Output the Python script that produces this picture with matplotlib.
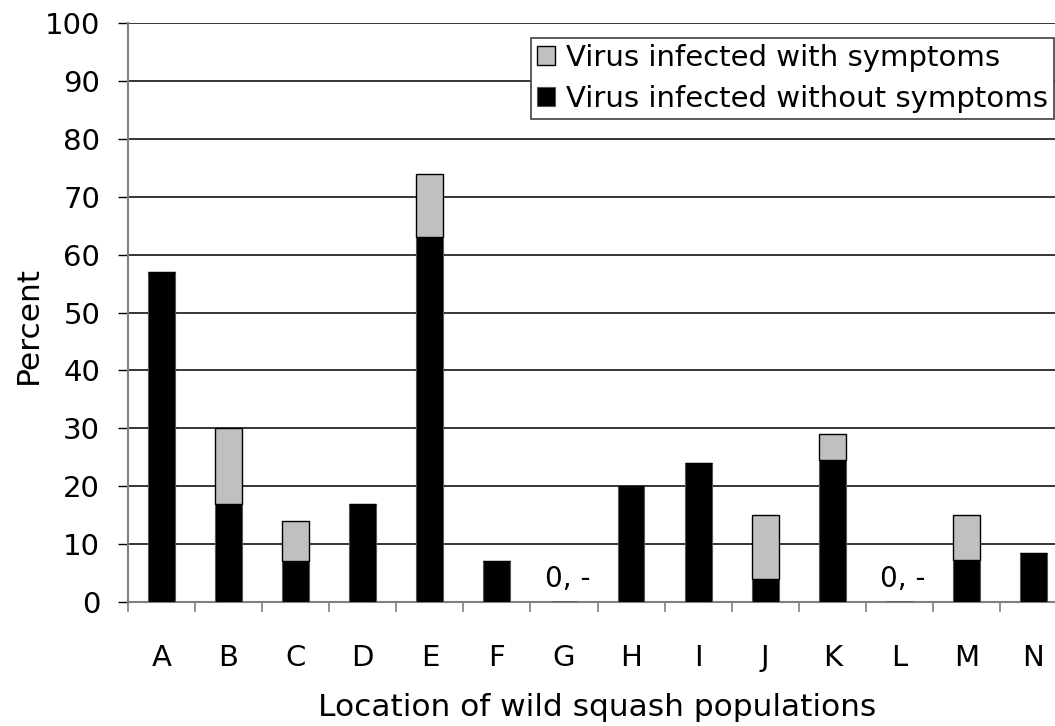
#!/usr/bin/env python3
"""Virus infection in wild squash populations, stacked bars."""

import matplotlib

matplotlib.use("Agg")

import matplotlib.pyplot as plt
import numpy as np

locations = ["A", "B", "C", "D", "E", "F", "G", "H", "I", "J", "K", "L", "M", "N"]
without_symptoms = [57, 17, 7, 17, 63, 7, 0, 20, 24, 4, 24.5, 0, 7.3, 8.4]
with_symptoms = [0, 13, 7, 0, 11, 0, 0, 0, 0, 11, 4.5, 0, 7.7, 0]
no_data = ["G", "L"]
yticks = list(range(0, 101, 10))

plt.rcParams["font.family"] = ["DejaVu Sans"]

fig = plt.figure(figsize=(10.55, 7.26), dpi=100)
ax = fig.add_axes([128 / 1055, 1 - 602 / 726, (1067 - 128) / 1055, (602 - 23) / 726])

x = np.arange(len(locations))
ax.bar(x, without_symptoms, width=0.4, color="black", edgecolor="#555555", linewidth=0.8,
       label="Virus infected without symptoms", zorder=3)
ax.bar(x, with_symptoms, width=0.4, bottom=without_symptoms, color="#c0c0c0",
       edgecolor="black", linewidth=1.0, label="Virus infected with symptoms", zorder=3)

for loc in no_data:
    i = locations.index(loc)
    ax.text(i + 0.05, 4, "0, -", ha="center", va="center", fontsize=20, zorder=4)

ax.set_xlim(-0.5, len(locations) - 0.5)
ax.set_ylim(0, 100)
ax.set_yticks(yticks)
ax.set_xticks(x)
ax.set_xticklabels(locations)
ax.set_xticks(np.arange(-0.5, len(locations), 1), minor=True)
ax.tick_params(axis="x", which="major", length=0, pad=30, labelsize=21)
ax.tick_params(axis="x", which="minor", length=7, color="#808080", width=1.2)
ax.tick_params(axis="y", length=7, color="black", width=1.0, labelsize=21, pad=13)
ax.yaxis.grid(True, color="black", linewidth=1.1, zorder=0)
ax.set_axisbelow(True)

for side in ["top", "right"]:
    ax.spines[side].set_visible(False)
ax.spines["left"].set_color("#808080")
ax.spines["left"].set_linewidth(1.5)
ax.spines["bottom"].set_color("#808080")
ax.spines["bottom"].set_linewidth(1.5)

ax.set_xlabel("Location of wild squash populations", fontsize=22.5, labelpad=15)
ax.set_ylabel("Percent", fontsize=22.5)
ax.yaxis.set_label_coords(-0.0905, 0.478)

handles, labels = ax.get_legend_handles_labels()
leg = fig.legend(handles[::-1], labels[::-1], loc="upper right",
                 bbox_to_anchor=(1054 / 1055, 1 - 38 / 726), fontsize=21,
                 frameon=True, fancybox=False, shadow=False, borderpad=0.2,
                 handlelength=0.6, handleheight=0.6, handletextpad=0.4,
                 labelspacing=0.45, borderaxespad=0)
leg.get_frame().set_edgecolor("#404040")
leg.get_frame().set_linewidth(1.2)
leg.get_frame().set_alpha(1)

fig.savefig("out.png", dpi=100)
